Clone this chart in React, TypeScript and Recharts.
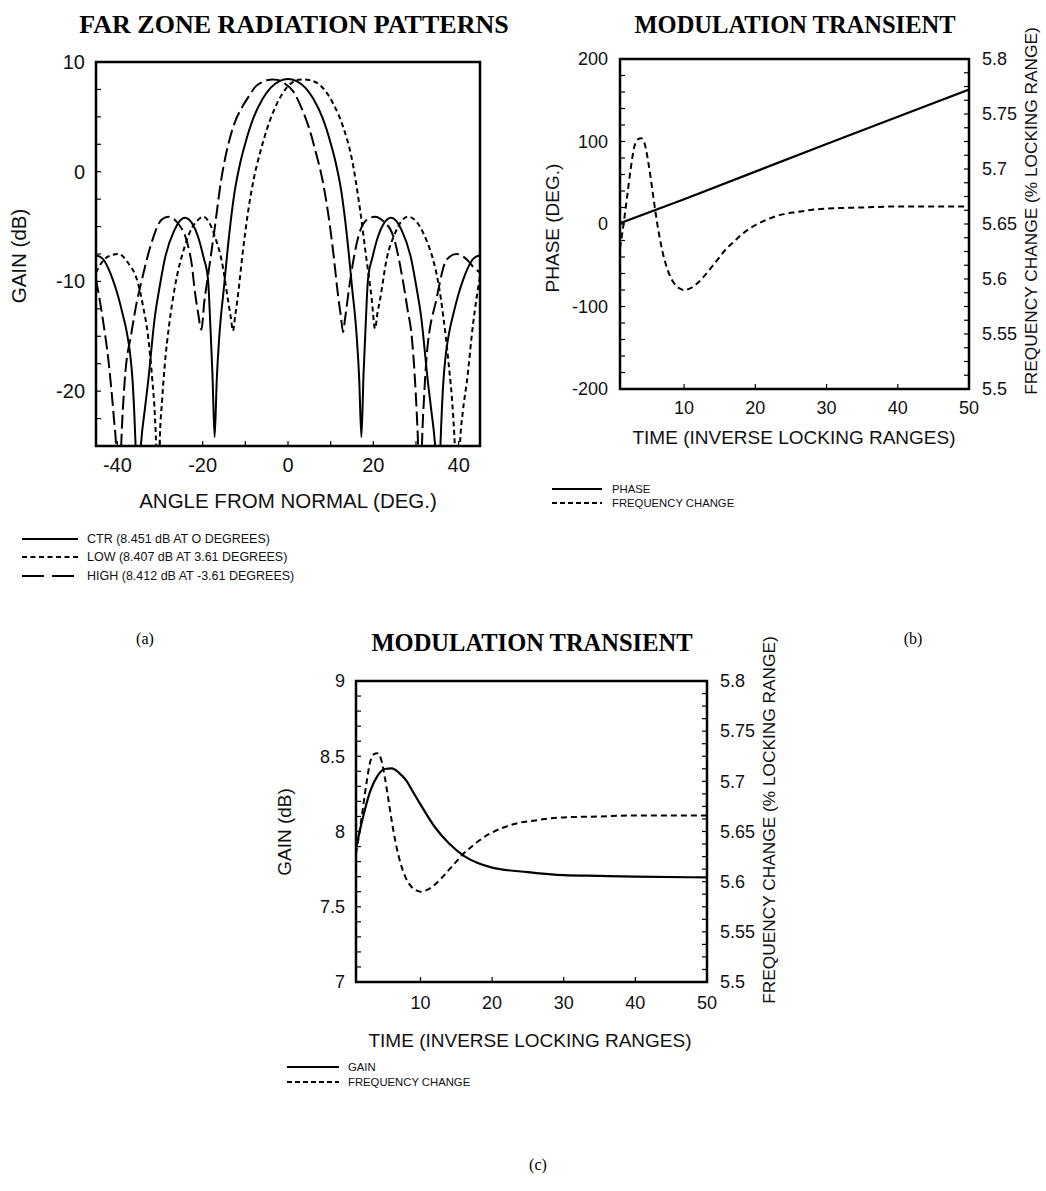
import React from 'react';
import { LineChart, Line, XAxis, YAxis, ReferenceArea } from 'recharts';

const SANS = '"Liberation Sans", Arial, Helvetica, sans-serif';
const SERIF = '"Liberation Serif", "Times New Roman", serif';

// ---------- (a) far zone radiation patterns: [angle deg, gain dB] ----------
const ctrPattern: [number, number][] = [
  [-45, -7.6], [-43.5, -7.9], [-42, -8.9], [-41, -9.9], [-40, -11.1], [-38.8, -12.9], [-37.8, -14.6],
  [-37, -16.6], [-36.4, -19.2], [-35.9, -23.2], [-35.6, -26.5], [-35.2, -34], [-34.8, -27], [-34.4, -24.6],
  [-33.6, -21.8], [-32.8, -19.2], [-31.2, -13.2], [-30, -10.3],
  [-28.9, -8], [-26.6, -5.3], [-24.2, -4.2], [-22.5, -4.7], [-21.1, -5.9], [-19.8, -7.8], [-18.75, -9.8],
  [-18.2, -14], [-17.7, -18.5], [-17.2, -24.2], [-16.7, -19], [-16.1, -15], [-15, -10.5], [-13.8, -5.8],
  [-12.5, -1.8], [-11.2, 0.8], [-10, 2.6], [-8.1, 4.9], [-6, 6.6], [-4.2, 7.6], [-2, 8.25], [0, 8.451],
  [2, 8.25], [4.2, 7.6], [6, 6.6], [8.1, 4.9], [10, 2.6], [11.2, 0.8], [12.5, -1.8], [13.8, -5.8],
  [15, -10.5], [16.1, -15], [16.7, -19], [17.2, -24.2], [17.7, -18.5], [18.2, -14], [18.75, -9.8],
  [19.8, -7.8], [21.1, -5.9], [22.5, -4.7], [24.2, -4.2], [26.6, -5.3], [28.9, -8], [30, -10.3],
  [31.2, -13.2], [32.8, -19.2], [33.6, -21.8], [34.4, -24.6], [34.8, -27], [35.2, -34], [35.6, -26.5],
  [35.9, -23.2], [36.4, -19.2], [37, -16.6], [37.8, -14.6], [38.8, -12.9], [40, -11.1], [41, -9.9],
  [42, -8.9], [43.5, -7.9], [45, -7.6],
];

const lowPattern: [number, number][] = [
  [-45, -9.2], [-43.5, -8.2], [-42, -7.7], [-39.8, -7.5], [-37.5, -8.3], [-35.2, -10.1], [-34, -12.2],
  [-32.8, -15], [-31.8, -19], [-31.2, -22.2], [-30.9, -25], [-30.5, -33], [-30.1, -25], [-29.5, -20.8],
  [-28.9, -17.7], [-27.8, -13.8], [-26.6, -10.7], [-24.2, -6.8], [-22.5, -5.1], [-21.1, -4.4], [-19.9, -4.1],
  [-18, -5], [-16.8, -6.3], [-15.6, -8], [-14.1, -11.6], [-13.4, -13.3], [-12.9, -14.5], [-12.4, -13.2],
  [-11.8, -11.5], [-10.5, -7], [-9.3, -3.5], [-8, -0.6], [-6.5, 1.8], [-5, 3.8], [-3.4, 5.5], [-1.5, 7.0],
  [0.9, 8.1], [2.5, 8.38], [3.61, 8.407], [5, 8.35], [7.5, 7.9], [10.6, 6.2], [13, 4.0], [14.9, 1.3],
  [16.9, -3.5], [18.4, -8], [19.6, -11.5], [20.4, -14.3], [21, -12.8], [21.6, -11.6], [23.1, -8],
  [25.1, -5.6], [26.6, -4.5], [28.2, -4.1], [30.9, -5], [32.5, -6.3], [34, -8], [35.3, -10.3],
  [36.4, -13.2], [37.6, -17.3], [38.7, -22.2], [39.1, -25], [39.7, -33], [40.3, -25], [41, -21.8],
  [41.9, -19.2], [43.4, -13.8], [45, -9.5],
];

const highPattern: [number, number][] = [
  [-45, -9.8], [-43.5, -13.2], [-42, -17.5], [-40.8, -22.5], [-40.3, -25], [-39.7, -33], [-39.1, -25],
  [-38.3, -19.2], [-36.7, -14.7], [-35.5, -12], [-34.4, -10.1], [-32, -6.5], [-29.7, -4.4], [-28.1, -4.1],
  [-26.5, -4.4], [-25.8, -4.7], [-23.4, -6.8], [-22.5, -8.6], [-21.9, -10.7], [-21.1, -12.8], [-20.3, -14.4],
  [-19.6, -11.8], [-18.75, -9.5], [-17.2, -5.2], [-15.6, -0.6], [-14.9, 0.9], [-13, 3.9], [-10.6, 6.0],
  [-9.3, 6.8], [-7.5, 7.8], [-6.6, 8.05], [-5, 8.33], [-3.61, 8.412], [-2.5, 8.37], [-1, 8.1], [1.25, 7.3],
  [3.4, 5.6], [5, 3.9], [6.5, 1.8], [8, -0.6], [9.3, -3.5], [10.5, -7], [11.8, -11.5], [12.4, -13.2],
  [12.9, -14.6], [13.4, -13.3], [14.5, -10.1], [16.5, -5.9], [18.4, -4.4], [20.4, -4.1], [22.3, -4.5],
  [24.7, -5.9], [27, -10.1], [28, -12.5], [29, -15], [29.7, -18.6], [30.2, -22.2], [30.5, -25], [31, -33],
  [31.4, -25], [31.9, -20.5], [32.5, -16.8], [34.8, -11.6], [37.2, -8], [39.5, -7.5], [41.9, -8],
  [43.5, -8.7], [45, -9.2],
];

// ---------- (b), (c) modulation transient: [time, value] ----------
const phaseDeg: [number, number][] = [
  [1, 1], [10, 30], [20, 63.5], [30, 97], [40, 130], [50, 163],
];

const freqChange: [number, number][] = [
  [1, 5.628], [1.5, 5.65], [2, 5.675], [2.5, 5.7], [3, 5.72], [3.5, 5.727], [4, 5.728], [4.5, 5.722],
  [5, 5.705], [5.5, 5.683], [6, 5.66], [6.5, 5.64], [7, 5.624], [7.5, 5.612], [8, 5.603], [8.5, 5.597],
  [9, 5.593], [9.5, 5.591], [10, 5.59], [11, 5.592], [12, 5.597], [13, 5.604], [14, 5.612], [15, 5.62],
  [16, 5.628], [17, 5.634], [18, 5.64], [19, 5.645], [20, 5.649], [22, 5.655], [24, 5.659], [26, 5.661],
  [28, 5.663], [30, 5.664], [35, 5.665], [40, 5.666], [45, 5.666], [50, 5.666],
];

const gainDb: [number, number][] = [
  [1, 7.89], [2, 8.1], [3, 8.27], [4, 8.37], [5, 8.415], [6, 8.42], [7, 8.39], [8, 8.34], [9, 8.26],
  [10, 8.18], [12, 8.03], [14, 7.92], [16, 7.84], [18, 7.79], [20, 7.76], [25, 7.73], [30, 7.71],
  [35, 7.705], [40, 7.7], [50, 7.695],
];

// ---------- tick values and labels ----------
const angleTicks = [-40, -30, -20, -10, 0, 10, 20, 30, 40];
const angleLabels = [-40, -20, 0, 20, 40];
const gainDbTicks = [-25, -22.5, -20, -17.5, -15, -12.5, -10, -7.5, -5, -2.5, 0, 2.5, 5, 7.5, 10];
const gainDbLabels = [-20, -10, 0, 10];
const timeTicks = [10, 20, 30, 40, 50];
const phaseTicks = [-200, -180, -160, -140, -120, -100, -80, -60, -40, -20, 0, 20, 40, 60, 80, 100, 120, 140, 160, 180, 200];
const phaseLabels = [-200, -100, 0, 100, 200];
const freqTicks = [
  5.5, 5.5125, 5.525, 5.5375, 5.55, 5.5625, 5.575, 5.5875, 5.6, 5.6125, 5.625, 5.6375, 5.65,
  5.6625, 5.675, 5.6875, 5.7, 5.7125, 5.725, 5.7375, 5.75, 5.7625, 5.775, 5.7875, 5.8,
];
const freqLabels = [5.5, 5.55, 5.6, 5.65, 5.7, 5.75, 5.8];
const transGainTicks = [7, 7.1, 7.2, 7.3, 7.4, 7.5, 7.6, 7.7, 7.8, 7.9, 8, 8.1, 8.2, 8.3, 8.4, 8.5, 8.6, 8.7, 8.8, 8.9, 9];
const transGainLabels = [7, 7.5, 8, 8.5, 9];

const toRows = (pts: [number, number][]) => pts.map(([x, y]) => ({ x, y }));

const findLabel = (labels: number[], v: number) => labels.find((l) => Math.abs(l - v) < 1e-6);

const TICK_LEN = 5;

const leftTick = (labels: number[], gap: number, fs: number) => (p: any) => {
  const lab = findLabel(labels, p.payload.value);
  return (
    <g>
      <line x1={p.x} x2={p.x + TICK_LEN} y1={p.y} y2={p.y} stroke="#000" strokeWidth={1.2} />
      {lab !== undefined && (
        <text x={p.x - gap} y={p.y} dy="0.35em" textAnchor="end" fontSize={fs} fontFamily={SANS} fill="#111">
          {String(lab)}
        </text>
      )}
    </g>
  );
};

const rightTick = (labels: number[], gap: number, fs: number) => (p: any) => {
  const lab = findLabel(labels, p.payload.value);
  return (
    <g>
      <line x1={p.x - TICK_LEN} x2={p.x} y1={p.y} y2={p.y} stroke="#000" strokeWidth={1.2} />
      {lab !== undefined && (
        <text x={p.x + gap} y={p.y} dy="0.35em" textAnchor="start" fontSize={fs} fontFamily={SANS} fill="#111">
          {String(lab)}
        </text>
      )}
    </g>
  );
};

const bottomTick = (labels: number[], gap: number, fs: number) => (p: any) => {
  const lab = findLabel(labels, p.payload.value);
  return (
    <g>
      <line x1={p.x} x2={p.x} y1={p.y - TICK_LEN} y2={p.y} stroke="#000" strokeWidth={1.2} />
      {lab !== undefined && (
        <text x={p.x} y={p.y + gap} dy="0.35em" textAnchor="middle" fontSize={fs} fontFamily={SANS} fill="#111">
          {String(lab)}
        </text>
      )}
    </g>
  );
};

const axisCommon = {
  axisLine: false,
  tickLine: false,
  tickSize: 0,
  tickMargin: 0,
  interval: 0 as const,
  allowDataOverflow: true,
};

const SHORT_DASH = '5 3.5';
const LONG_DASH = '14 5';
const MED_DASH = '6 4';

function RadiationChart() {
  return (
    <LineChart width={500} height={500} margin={{ top: 62, right: 20, bottom: 30, left: 56 }}>
      <XAxis type="number" dataKey="x" domain={[-45, 45]} ticks={angleTicks} height={24}
        tick={bottomTick(angleLabels, 19, 20)} {...axisCommon} />
      <YAxis type="number" domain={[-25, 10]} ticks={gainDbTicks} width={40}
        tick={leftTick(gainDbLabels, 11, 20)} {...axisCommon} />
      <ReferenceArea x1={-45} x2={45} y1={-25} y2={10} fill="none" stroke="#000" strokeWidth={2.5} />
      <Line data={toRows(ctrPattern)} dataKey="y" type="monotone" dot={false} stroke="#000" strokeWidth={2} isAnimationActive={false} />
      <Line data={toRows(lowPattern)} dataKey="y" type="monotone" dot={false} stroke="#000" strokeWidth={2} strokeDasharray={SHORT_DASH} isAnimationActive={false} />
      <Line data={toRows(highPattern)} dataKey="y" type="monotone" dot={false} stroke="#000" strokeWidth={2} strokeDasharray={LONG_DASH} isAnimationActive={false} />
    </LineChart>
  );
}

function PhaseChart() {
  return (
    <LineChart width={526} height={430} margin={{ top: 59, right: 27, bottom: 21, left: 50 }}>
      <XAxis type="number" dataKey="x" domain={[1, 50]} ticks={timeTicks} height={20}
        tick={bottomTick(timeTicks, 19, 18)} {...axisCommon} />
      <YAxis yAxisId="left" type="number" domain={[-200, 200]} ticks={phaseTicks} width={50}
        tick={leftTick(phaseLabels, 12, 18)} {...axisCommon} />
      <YAxis yAxisId="right" orientation="right" type="number" domain={[5.5, 5.8]} ticks={freqTicks} width={50}
        tick={rightTick(freqLabels, 13, 18)} {...axisCommon} />
      <ReferenceArea yAxisId="left" x1={1} x2={50} y1={-200} y2={200} fill="none" stroke="#000" strokeWidth={2.5} />
      <Line yAxisId="left" data={toRows(phaseDeg)} dataKey="y" type="linear" dot={false} stroke="#000" strokeWidth={2.2} isAnimationActive={false} />
      <Line yAxisId="right" data={toRows(freqChange)} dataKey="y" type="monotone" dot={false} stroke="#000" strokeWidth={2} strokeDasharray={MED_DASH} isAnimationActive={false} />
    </LineChart>
  );
}

function GainChart() {
  return (
    <LineChart width={520} height={430} margin={{ top: 81, right: 23, bottom: 28, left: 46 }}>
      <XAxis type="number" dataKey="x" domain={[1, 50]} ticks={timeTicks} height={20}
        tick={bottomTick(timeTicks, 21, 18)} {...axisCommon} />
      <YAxis yAxisId="left" type="number" domain={[7, 9]} ticks={transGainTicks} width={50}
        tick={leftTick(transGainLabels, 11, 18)} {...axisCommon} />
      <YAxis yAxisId="right" orientation="right" type="number" domain={[5.5, 5.8]} ticks={freqTicks} width={50}
        tick={rightTick(freqLabels, 13, 18)} {...axisCommon} />
      <ReferenceArea yAxisId="left" x1={1} x2={50} y1={7} y2={9} fill="none" stroke="#000" strokeWidth={2.5} />
      <Line yAxisId="left" data={toRows(gainDb)} dataKey="y" type="monotone" dot={false} stroke="#000" strokeWidth={2.2} isAnimationActive={false} />
      <Line yAxisId="right" data={toRows(freqChange)} dataKey="y" type="monotone" dot={false} stroke="#000" strokeWidth={2} strokeDasharray={MED_DASH} isAnimationActive={false} />
    </LineChart>
  );
}

function LegendRow({ x1, x2, y, dash, text, fs, tx }: { x1: number; x2: number; y: number; dash?: string; text: string; fs: number; tx: number }) {
  return (
    <g>
      <line x1={x1} x2={x2} y1={y} y2={y} stroke="#000" strokeWidth={1.8} strokeDasharray={dash} />
      <text x={tx} y={y} dy="0.35em" fontSize={fs} fontFamily={SANS} fill="#111">{text}</text>
    </g>
  );
}

function Labels() {
  const title = { fontFamily: SERIF, fontWeight: 700, fill: '#000', textAnchor: 'middle' as const };
  const axisA = { fontFamily: SANS, fontSize: 20.5, fill: '#111', textAnchor: 'middle' as const };
  const axisT = { fontFamily: SANS, fontSize: 19, fill: '#111', textAnchor: 'middle' as const };
  const axisR = { fontFamily: SANS, fontSize: 17.3, fill: '#111', textAnchor: 'middle' as const };
  const cap = { fontFamily: SERIF, fontSize: 16, fill: '#000', textAnchor: 'middle' as const };
  return (
    <svg width={1046} height={1191} style={{ position: 'absolute', left: 0, top: 0, pointerEvents: 'none' }}>
      {/* titles */}
      <text x={294} y={33} fontSize={26} {...title}>FAR ZONE RADIATION PATTERNS</text>
      <text x={795} y={33} fontSize={24.5} {...title}>MODULATION TRANSIENT</text>
      <text x={532} y={651} fontSize={24.5} {...title}>MODULATION TRANSIENT</text>

      {/* axis titles */}
      <text x={288} y={508} {...axisA}>ANGLE FROM NORMAL (DEG.)</text>
      <text x={26} y={256} transform="rotate(-90 26 256)" {...axisA}>GAIN (dB)</text>

      <text x={794} y={444} {...axisT}>TIME (INVERSE LOCKING RANGES)</text>
      <text x={559} y={228} transform="rotate(-90 559 228)" {...axisT}>PHASE (DEG.)</text>
      <text x={1037} y={211} transform="rotate(-90 1037 211)" {...axisR}>FREQUENCY CHANGE (% LOCKING RANGE)</text>

      <text x={530} y={1047} {...axisT}>TIME (INVERSE LOCKING RANGES)</text>
      <text x={291} y={832} transform="rotate(-90 291 832)" {...axisT}>GAIN (dB)</text>
      <text x={775} y={820} transform="rotate(-90 775 820)" {...axisR}>FREQUENCY CHANGE (% LOCKING RANGE)</text>

      {/* legends */}
      <LegendRow x1={22} x2={78} y={539} text="CTR (8.451 dB AT O DEGREES)" fs={12.5} tx={87} />
      <LegendRow x1={22} x2={78} y={557} dash={SHORT_DASH} text="LOW (8.407 dB AT 3.61 DEGREES)" fs={12.5} tx={87} />
      <LegendRow x1={22} x2={78} y={576} dash="22 8" text="HIGH (8.412 dB AT -3.61 DEGREES)" fs={12.5} tx={87} />

      <LegendRow x1={552} x2={602} y={489} text="PHASE" fs={11.3} tx={612} />
      <LegendRow x1={552} x2={602} y={503} dash="5 3" text="FREQUENCY CHANGE" fs={11.3} tx={612} />

      <LegendRow x1={287} x2={339} y={1067} text="GAIN" fs={11.3} tx={348} />
      <LegendRow x1={287} x2={339} y={1082} dash="5 3" text="FREQUENCY CHANGE" fs={11.3} tx={348} />

      {/* panel captions */}
      <text x={145} y={644} {...cap}>(a)</text>
      <text x={913} y={644} {...cap}>(b)</text>
      <text x={538} y={1170} {...cap}>(c)</text>
    </svg>
  );
}

export default function App() {
  return (
    <div style={{ position: 'absolute', left: 0, top: 0, width: 1046, height: 1191, background: '#fff', overflow: 'hidden' }}>
      <div style={{ position: 'absolute', left: 0, top: 0 }}>
        <RadiationChart />
      </div>
      <div style={{ position: 'absolute', left: 520, top: 0 }}>
        <PhaseChart />
      </div>
      <div style={{ position: 'absolute', left: 260, top: 600 }}>
        <GainChart />
      </div>
      <Labels />
    </div>
  );
}
